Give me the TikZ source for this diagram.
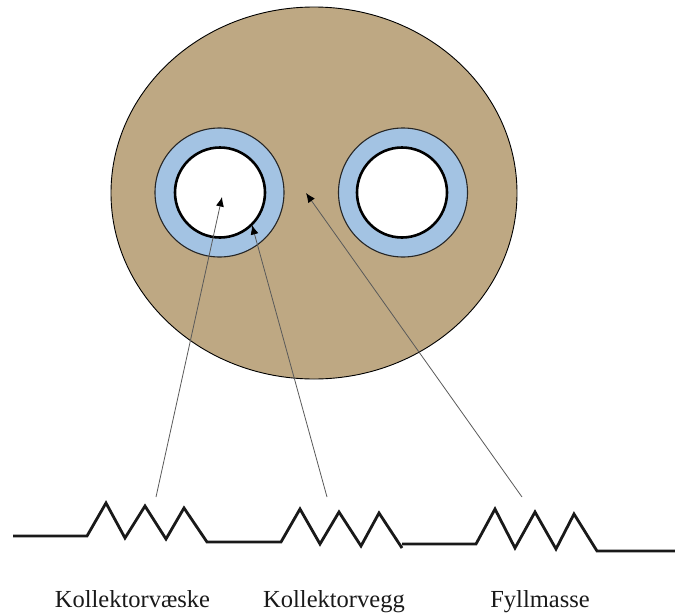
\documentclass[tikz,border=0pt]{standalone}
\usepackage{fontspec}
\setmainfont{Liberation Serif}
\usetikzlibrary{arrows.meta,shapes.geometric}
\definecolor{fill tan}{HTML}{BEA883}
\definecolor{ring blue}{HTML}{A3C3E3}
\tikzset{
  body/.style={ellipse,draw=black,line width=0.9pt,fill=fill tan,minimum width=406pt,minimum height=372pt,inner sep=0pt},
  ring/.style={circle,draw=black!85,line width=1.1pt,fill=ring blue,minimum size=129pt,inner sep=0pt},
  bore/.style={circle,draw=black,line width=2.6pt,fill=white,minimum size=90pt,inner sep=0pt},
  wire/.style={line width=2.8pt,line join=miter,black!90},
  pointer/.style={line width=0.8pt,black!65,-{Latex[length=9.5pt,width=8pt,black]}},
  lbl/.style={font=\fontsize{24.5pt}{28pt}\selectfont,anchor=base,inner sep=0pt,text=black!90}
}
\begin{document}
\begin{tikzpicture}[x=1pt,y=-1pt]
\useasboundingbox (0,0) rectangle (675,613);
\node[body] (fyll) at (314,193) {};
\node[ring] (ringL) at (219.5,192.5) {};
\node[bore] (boreL) at (220,192.5) {};
\node[ring] (ringR) at (403,192.5) {};
\node[bore] (boreR) at (402,192.5) {};
\coordinate (startA) at (156,497);
\coordinate (startB) at (327,497);
\coordinate (startC) at (522,497);
\coordinate (tipA) at (222,197);
\coordinate (tipB) at (252,225);
\coordinate (tipC) at (306,193);
\draw[pointer] (startA) -- (tipA);
\draw[pointer] (startB) -- (tipB);
\draw[pointer] (startC) -- (tipC);
\coordinate (w0) at (13,536);
\coordinate (w1) at (402,548);
\coordinate (w2) at (402,544);
\coordinate (w3) at (675,551);
\draw[wire] (w0) -- (87,536) -- (106,503) -- (125,538) -- (145,506) -- (166,539) -- (184,508) -- (207,542) -- (281,542) -- (300,509) -- (320,544) -- (339,512) -- (361,546) -- (379,513) -- (w1);
\draw[wire] (w2) -- (476,544) -- (495,509) -- (515,548) -- (535,512) -- (556,549) -- (574,514) -- (597,551) -- (w3);
\node[lbl] (l1) at (132.5,607) {Kollektorvæske};
\node[lbl] (l2) at (334,607) {Kollektorvegg};
\node[lbl] (l3) at (540,607) {Fyllmasse};
\end{tikzpicture}
\end{document}
